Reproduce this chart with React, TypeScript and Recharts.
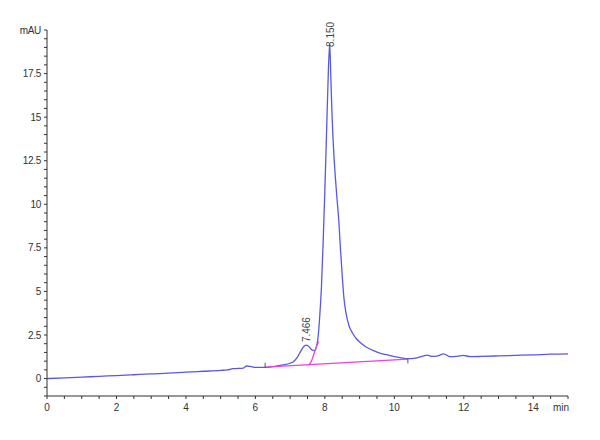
import React from 'react';
import {
  ComposedChart, Line, Scatter, XAxis, YAxis, ReferenceLine
} from 'recharts';

// retention time (min) and absorbance (mAU)
const traceTime = [
  0, 0.5, 1, 1.5, 2, 2.5, 3, 3.5, 4, 4.5, 5, 5.2, 5.35, 5.5, 5.65, 5.75, 5.85, 6.0, 6.2, 6.4,
  6.6, 6.8, 7.0, 7.1, 7.2, 7.3, 7.4, 7.47, 7.55, 7.62, 7.7, 7.76, 7.8, 7.85, 7.9, 7.95, 8.0,
  8.05, 8.1, 8.14, 8.17, 8.2, 8.25, 8.3, 8.35, 8.4, 8.45, 8.5, 8.55, 8.6, 8.7, 8.8, 8.9, 9.0,
  9.2, 9.4, 9.6, 9.8, 10.0, 10.2, 10.4, 10.6, 10.8, 10.95, 11.1, 11.25, 11.42, 11.6, 11.8,
  11.98, 12.2, 12.5, 13, 13.5, 14, 14.5, 15
];
const traceMAU = [
  0, 0.04, 0.08, 0.13, 0.17, 0.22, 0.27, 0.31, 0.37, 0.42, 0.47, 0.5, 0.57, 0.58, 0.6, 0.72, 0.7, 0.64, 0.64, 0.66,
  0.72, 0.78, 0.88, 0.98, 1.2, 1.55, 1.85, 1.92, 1.82, 1.65, 1.6, 1.85, 2.3, 3.5, 5.2, 7.8, 10.8,
  14.2, 17.6, 19.2, 17.4, 15.5, 13.2, 11.6, 10.3, 9.1, 7.4, 5.9, 4.6, 3.85, 3.0, 2.6, 2.3, 2.1,
  1.8, 1.6, 1.45, 1.36, 1.26, 1.19, 1.14, 1.17, 1.27, 1.34, 1.27, 1.3, 1.42, 1.26, 1.27,
  1.33, 1.26, 1.27, 1.3, 1.33, 1.36, 1.4, 1.42
];

// integration baseline (magenta)
const baseTime = [6.28, 10.39];
const baseMAU = [0.66, 1.12];
// drop / skim line under the main peak's front
const skimTime = [7.55, 7.6, 7.65, 7.7, 7.75, 7.82];
const skimMAU = [0.82, 0.95, 1.2, 1.5, 1.8, 2.12];

const peakTimes = [7.466, 8.150];
const peakLabels = ['7.466', '8.150'];
const peakApex = [1.92, 19.2];

const xTicks = [0, 0.5, 1, 1.5, 2, 2.5, 3, 3.5, 4, 4.5, 5, 5.5, 6, 6.5, 7, 7.5, 8, 8.5, 9, 9.5,
  10, 10.5, 11, 11.5, 12, 12.5, 13, 13.5, 14, 14.5, 15];
const xLabelled = [0, 2, 4, 6, 8, 10, 12, 14];
const yTicks = [-1, -0.5, 0, 0.5, 1, 1.5, 2, 2.5, 3, 3.5, 4, 4.5, 5, 5.5, 6, 6.5, 7, 7.5, 8, 8.5,
  9, 9.5, 10, 10.5, 11, 11.5, 12, 12.5, 13, 13.5, 14, 14.5, 15, 15.5, 16, 16.5, 17, 17.5, 18,
  18.5, 19, 19.5, 20];
const yLabelled = [0, 2.5, 5, 7.5, 10, 12.5, 15, 17.5];

const trace = traceTime.map((t, i) => ({ t, v: traceMAU[i] }));
const baseline = baseTime.map((t, i) => ({ t, v: baseMAU[i] }));
const skim = skimTime.map((t, i) => ({ t, v: skimMAU[i] }));
const peaks = peakTimes.map((t, i) => ({ t, v: peakApex[i], label: peakLabels[i] }));

const FONT = '"Liberation Sans", Arial, sans-serif';
const AXIS = '#333';

const XTick = ({ x, y, payload }: any) => {
  const t = payload.value;
  let txt = '';
  if (t === 15) txt = 'min';
  else if (xLabelled.includes(t)) txt = String(t);
  if (!txt) return null;
  return (
    <text x={t === 15 ? x + 1 : x} y={y} dy={8} textAnchor={t === 15 ? 'end' : 'middle'}
      fontSize={10} fontFamily={FONT} fill={AXIS}>{txt}</text>
  );
};

const YTick = ({ x, y, payload }: any) => {
  const v = payload.value;
  let txt = '';
  if (v === 20) txt = 'mAU';
  else if (yLabelled.includes(v)) txt = String(v);
  if (!txt) return null;
  return (
    <text x={x} y={y} dy={3.5} textAnchor="end" fontSize={10} fontFamily={FONT} fill={AXIS}
      letterSpacing={-0.3}>{txt}</text>
  );
};

const PeakLabel = ({ cx, cy, payload }: any) => {
  if (cx == null) return null;
  const small = payload.t < 8;
  const sx = cx + 4;
  const sy = small ? cy - 3 : cy + 3;
  return (
    <text x={sx} y={sy} transform={`rotate(-90 ${sx} ${sy})`} fontSize={10} fontFamily={FONT}
      fill="#444">{payload.label}</text>
  );
};

export default function App() {
  return (
    <div style={{ position: 'absolute', left: 0, top: 0, background: '#fff' }}>
      <ComposedChart width={600} height={440} margin={{ top: 30, right: 32, bottom: 0, left: 0 }}>
        <XAxis dataKey="t" type="number" domain={[0, 15]} ticks={xTicks} interval={0}
          height={44} stroke={AXIS} tickSize={3} tickMargin={4}
          tick={<XTick />} />
        <YAxis dataKey="v" type="number" domain={[-1, 20]} ticks={yTicks} interval={0}
          width={47} stroke={AXIS} tickSize={3} tickMargin={3}
          tick={<YTick />} />
        <Line data={trace} dataKey="v" type="monotone" stroke="#5757ee" strokeWidth={1.3}
          dot={false} isAnimationActive={false} />
        <Line data={baseline} dataKey="v" type="linear" stroke="#ee3fe0" strokeWidth={1.3}
          dot={false} isAnimationActive={false} />
        <Line data={skim} dataKey="v" type="monotone" stroke="#ee3fe0" strokeWidth={1.3}
          dot={false} isAnimationActive={false} />
        <ReferenceLine segment={[{ x: baseTime[0], y: baseMAU[0] - 0.05 }, { x: baseTime[0], y: baseMAU[0] + 0.25 }]}
          stroke="#555" strokeWidth={1} />
        <ReferenceLine segment={[{ x: baseTime[1], y: baseMAU[1] - 0.25 }, { x: baseTime[1], y: baseMAU[1] + 0.05 }]}
          stroke="#555" strokeWidth={1} />
        <Scatter data={peaks} dataKey="v" shape={<PeakLabel />} isAnimationActive={false} />
      </ComposedChart>
    </div>
  );
}
